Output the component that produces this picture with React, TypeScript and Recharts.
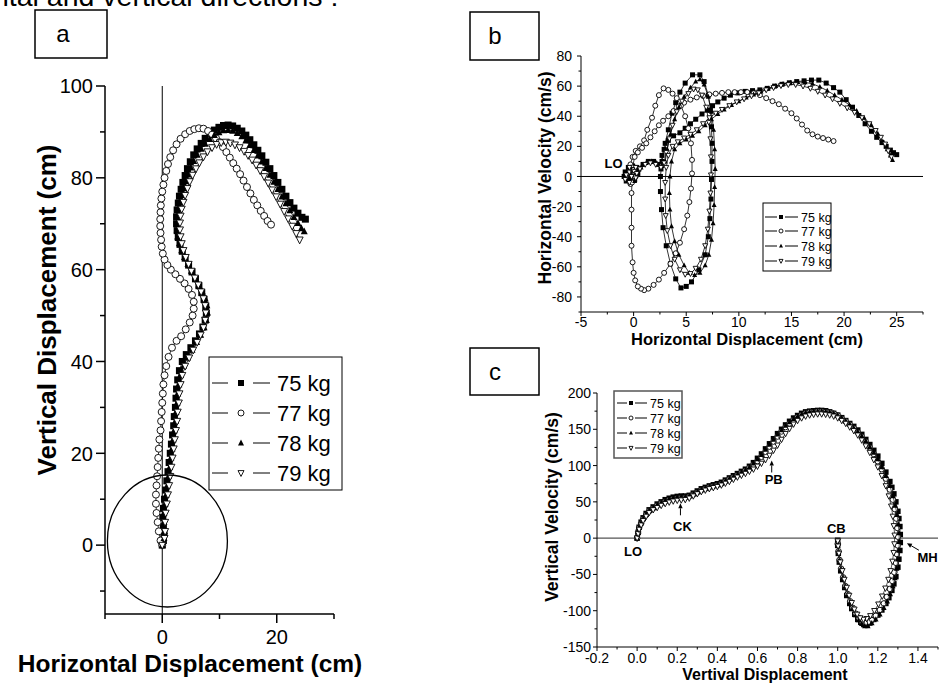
import React from 'react';
import { ScatterChart, Scatter, XAxis, YAxis, ReferenceLine, ReferenceDot } from 'recharts';

const FONT = '"Liberation Sans", Arial, Helvetica, sans-serif';

const seriesNames = ['75 kg', '77 kg', '78 kg', '79 kg'];
const markerKinds = ['square', 'circle', 'tri', 'invtri'];

// panel a: horizontal (x) vs vertical (y) bar displacement, cm
const a75 = [0,0, 0.2,1, 0.3,2.5, 0.2,4, 0.1,6, 0.2,8, 0.4,10, 0.6,12, 0.8,14, 1,16, 1.2,18, 1.4,20, 1.6,22, 1.8,24, 2,26, 2.1,28, 2.3,30, 2.4,32, 2.5,34, 2.7,36, 3,38, 3.5,40, 4.2,41.5, 5,43, 5.8,44.5, 6.5,46, 7.1,47.5, 7.5,49, 7.7,50.5, 7.6,52, 7.3,53.5, 6.9,55, 6.4,56.5, 5.8,58, 5.2,59.5, 4.6,61, 4,62.5, 3.5,64, 3.1,65.5, 2.8,67, 2.6,68.5, 2.5,70, 2.5,71.5, 2.6,73, 2.8,74.5, 3,76, 3.3,77.5, 3.6,79, 4,80.5, 4.4,82, 4.9,83.5, 5.5,85, 6.1,86.3, 6.8,87.5, 7.5,88.6, 8.3,89.6, 9.1,90.4, 9.9,91, 10.7,91.4, 11.5,91.5, 12.3,91.3, 13.1,90.8, 13.9,90.2, 14.6,89.3, 15.3,88.3, 16,87.2, 16.7,86, 17.4,84.8, 18.1,83.4, 18.8,82, 19.5,80.5, 20.2,79, 20.9,77.5, 21.6,76, 22.3,74.6, 23,73.4, 23.7,72.3, 24.4,71.4, 25,71];
const a77 = [0,0, -0.3,1, -0.6,3, -0.8,5, -1,7, -1.1,9, -1.1,11, -1,13, -0.9,15, -0.8,17, -0.7,19, -0.6,21, -0.5,23, -0.3,25, -0.2,27, -0.1,29, 0,31, 0.1,33, 0.2,35, 0.4,37, 0.7,39, 1.1,41, 1.7,43, 2.5,44.5, 3.3,45.5, 4.1,47, 4.8,48.5, 5.3,50, 5.5,51.5, 5.5,53, 5.2,54.5, 4.6,55.8, 3.9,57, 3.1,58, 2.3,59, 1.5,60, 0.9,61, 0.4,62.2, 0.1,63.5, -0.1,65, -0.2,66.5, -0.3,68, -0.35,69.5, -0.35,71, -0.3,72.5, -0.25,74, -0.15,75.5, 0,77, 0.2,78.5, 0.4,80, 0.7,81.5, 1,83, 1.4,84.5, 1.9,86, 2.5,87.3, 3.2,88.5, 4,89.5, 4.8,90.2, 5.6,90.6, 6.4,90.8, 7.2,90.7, 8,90.2, 8.7,89.4, 9.4,88.6, 10,87.8, 10.6,86.7, 11.2,85.6, 11.8,84.4, 12.4,83.2, 13,82, 13.6,80.8, 14.2,79.4, 14.8,78, 15.4,76.6, 16,75.2, 16.6,74, 17.2,72.8, 17.8,71.7, 18.4,70.6, 19,69.8];
const a78 = [0,0, 0.3,1.5, 0.4,3, 0.3,5, 0.3,7, 0.5,9, 0.7,11, 0.9,13, 1.1,15, 1.3,17, 1.5,19, 1.7,21, 1.9,23, 2.1,25, 2.3,27, 2.4,29, 2.6,31, 2.7,33, 2.9,35, 3.2,37, 3.7,39, 4.4,40.8, 5.2,42.5, 6,44.2, 6.7,45.8, 7.3,47.4, 7.7,49, 7.9,50.6, 7.8,52.2, 7.5,53.7, 7,55.2, 6.4,56.7, 5.8,58.2, 5.1,59.7, 4.5,61.2, 3.9,62.7, 3.4,64.2, 3,65.7, 2.7,67.2, 2.6,68.7, 2.6,70.2, 2.7,71.7, 2.9,73.2, 3.1,74.7, 3.4,76.2, 3.7,77.7, 4.1,79.2, 4.5,80.7, 5,82.2, 5.5,83.6, 6.1,85, 6.8,86.3, 7.5,87.4, 8.3,88.4, 9.1,89.3, 9.9,89.9, 10.7,90.3, 11.5,90.4, 12.3,90.2, 13.1,89.7, 13.9,89, 14.6,88.1, 15.3,87.1, 16,86, 16.7,84.8, 17.4,83.5, 18.1,82.1, 18.8,80.6, 19.5,79.1, 20.2,77.5, 20.9,75.9, 21.6,74.4, 22.3,72.9, 23,71.4, 23.7,70.1, 24.3,69, 24.8,68.3];
const a79 = [0,0, 0.4,1.5, 0.5,3, 0.5,5, 0.6,7, 0.8,9, 1,11, 1.2,13, 1.4,15, 1.6,17, 1.8,19, 2,21, 2.2,23, 2.4,25, 2.6,27, 2.7,29, 2.9,31, 3,33, 3.2,35, 3.5,37, 4,39, 4.7,40.8, 5.4,42.5, 6.1,44.2, 6.7,45.8, 7.2,47.4, 7.5,49, 7.6,50.6, 7.5,52.2, 7.2,53.7, 6.8,55.2, 6.3,56.7, 5.7,58.2, 5.1,59.7, 4.6,61.2, 4.1,62.7, 3.7,64.2, 3.4,65.7, 3.2,67.2, 3.1,68.7, 3.1,70.2, 3.2,71.7, 3.4,73.2, 3.7,74.7, 4,76.2, 4.4,77.7, 4.8,79.2, 5.3,80.6, 5.9,82, 6.5,83.3, 7.2,84.6, 7.9,85.7, 8.7,86.6, 9.5,87.3, 10.3,87.7, 11.1,87.8, 11.9,87.6, 12.7,87.2, 13.5,86.6, 14.3,85.8, 15,84.9, 15.7,83.9, 16.4,82.8, 17.1,81.6, 17.8,80.3, 18.5,78.9, 19.2,77.4, 19.9,75.9, 20.6,74.3, 21.3,72.7, 22,71.1, 22.7,69.5, 23.4,67.9, 24,66.5];

// panel b: horizontal displacement (cm) vs horizontal velocity (cm/s)
const b75 = [0,0, -0.3,-4, -0.7,-3, -0.9,0, -0.8,3, -0.5,6, -0.1,7, 0.3,6, 0.4,2, 0.1,-2, -0.4,1, 0,4, 0.5,5, 0.9,8, 1.4,10, 1.9,10, 2.3,8, 2.6,5, 2.7,14, 3,22, 3.3,31, 3.65,42, 4,49, 4.4,56, 4.9,62, 5.6,67.5, 6.3,67.5, 6.7,63, 7.1,54, 7.3,44, 7.4,33, 7.45,22, 7.45,10, 7.4,-2, 7.35,-15, 7.25,-28, 7.1,-40, 6.8,-52, 6.2,-62, 5.5,-70, 5,-73, 4.5,-74, 4,-68, 3.5,-58, 3.1,-46, 2.8,-34, 2.65,-22, 2.55,-10, 2.55,0, 2.7,10, 2.9,18, 3.3,24, 3.8,27, 4.4,29, 4.9,32, 5.4,35, 5.9,38, 6.5,41.5, 7,44, 7.5,47, 8,49.5, 8.6,52, 9.2,54, 9.9,55.5, 10.6,56.5, 11.3,57, 12,57.5, 12.7,58.5, 13.4,60, 14.1,61.2, 14.8,62.2, 15.5,63, 16.2,63.5, 16.9,64, 17.6,64, 18.3,62, 19,59, 19.6,56, 20.2,51, 20.8,46, 21.4,40.5, 22,35, 22.6,30, 23.1,26, 23.6,22.5, 24,20, 24.4,17.5, 24.7,15.8, 25,14.5];
const b77 = [0,0, -0.4,-3, -0.7,-1, -0.6,2, -0.3,6, 0.1,4, 0.2,0, -0.2,-2, -0.3,-5, -0.5,3, -0.3,8, -0.1,13, 0.2,17, 0.6,20, 1,24, 1.3,31, 1.75,39, 2.06,47, 2.4,54, 2.85,58.5, 3.3,57.5, 3.7,55, 4.1,52, 4.5,47, 4.9,40, 5.2,32, 5.45,22, 5.55,11, 5.55,2, 5.45,-8, 5.3,-17, 5.1,-26, 4.8,-35, 4.4,-44, 4,-51, 3.5,-58, 2.9,-64, 2.4,-68.5, 1.9,-72, 1.4,-74.5, 1,-75.5, 0.7,-74.5, 0.4,-73, 0.15,-69, 0,-64, -0.1,-57, -0.2,-46, -0.2,-34, -0.2,-22, -0.2,-11, -0.15,-4, -0.1,6, 0.1,13, 0.4,16, 0.8,19, 1.2,22, 1.6,26, 2,30, 2.4,34, 2.8,37, 3.3,40, 3.8,43.5, 4.3,46.5, 4.8,49, 5.4,51, 6,52.5, 6.6,53.5, 7.2,54.5, 7.8,55, 8.4,55.5, 9,56, 9.6,56, 10.2,56, 10.8,56, 11.4,55.3, 12,54, 12.6,52, 13.2,50, 13.8,48, 14.4,45, 15,42, 15.5,38.5, 16,34.5, 16.5,30.5, 17,28, 17.5,26.5, 18,25.5, 18.5,24.5, 19,23.5];
const b78 = [0,0, -0.5,-2, -0.8,0, -0.7,3, -0.3,6, 0.2,6, 0.3,2, 0.1,-3, -0.3,-1, 0.7,6, 1.2,9, 1.7,10, 2.2,9, 2.7,7, 3,10, 3.2,18, 3.5,28, 3.9,38, 4.3,46, 4.8,53, 5.4,59, 5.9,63, 6.3,64.5, 6.7,61, 7.1,53, 7.4,43, 7.6,31, 7.7,18, 7.75,5, 7.7,-7, 7.65,-19, 7.55,-31, 7.4,-42, 7.15,-52, 6.8,-59, 6.3,-64, 5.8,-65.5, 5.3,-64, 4.8,-59, 4.3,-52, 3.9,-43, 3.6,-33, 3.45,-22, 3.4,-11, 3.45,0, 3.6,10, 3.9,18, 4.4,22, 5,24.5, 5.6,27, 6.2,30, 6.8,34, 7.4,38, 8,41.5, 8.6,44.5, 9.3,47.5, 10,50, 10.7,52.5, 11.4,54.5, 12.1,56.5, 12.8,58.5, 13.5,60, 14.2,61.5, 14.9,62.3, 15.6,62.8, 16.3,62.5, 17,61.5, 17.7,59.5, 18.4,57, 19.1,54, 19.8,51, 20.5,47.5, 21.2,43.5, 21.9,39, 22.6,34, 23.2,28.5, 23.7,23, 24.1,18, 24.4,14, 24.6,11];
const b79 = [0,0, -0.4,-4, -0.8,-2, -0.7,1, -0.4,6, 0.2,6, 0.3,2, 0.2,-1, -0.2,0, 0.6,5, 1.1,8, 1.6,9, 2.1,8, 2.6,6, 2.9,9, 3.1,16, 3.4,25, 3.7,34, 4.1,43, 4.6,50, 5.2,55, 5.7,58, 6.1,57.5, 6.5,54, 6.9,46, 7.15,36, 7.3,25, 7.35,13, 7.35,1, 7.3,-11, 7.2,-23, 7.05,-35, 6.8,-46, 6.4,-55, 5.9,-61, 5.4,-64.5, 4.9,-65, 4.4,-62, 3.9,-55, 3.5,-46, 3.2,-36, 3.05,-26, 3,-15, 3,-4, 3.1,6, 3.3,14, 3.7,20, 4.2,23, 4.8,25.5, 5.4,28, 6,31, 6.6,35, 7.2,39, 7.8,42, 8.4,44.5, 9.1,47, 9.8,49.5, 10.5,51.5, 11.2,53.5, 11.9,55.5, 12.6,57.5, 13.3,59, 14,60.3, 14.7,61, 15.4,61, 16.1,60, 16.8,58.5, 17.5,56.5, 18.2,54, 18.9,51.5, 19.6,48.5, 20.3,45.5, 21,42.5, 21.7,39, 22.4,35, 23,30.5, 23.5,26, 23.9,21.5, 24.2,17, 24.5,13];

// panel c: vertical displacement vs vertical velocity (cm/s)
const c75 = [0,0, 0.005,8, 0.01,15, 0.02,22, 0.03,28, 0.045,34, 0.06,39, 0.08,43, 0.1,47, 0.12,50, 0.14,53, 0.16,55, 0.18,56.5, 0.2,57.5, 0.22,58, 0.24,58, 0.26,59, 0.28,62, 0.3,65, 0.32,68, 0.34,70, 0.36,72, 0.38,73.5, 0.4,75, 0.42,77, 0.44,80, 0.46,83, 0.48,86, 0.5,89, 0.52,92, 0.54,95, 0.56,99, 0.58,104, 0.6,110, 0.62,116, 0.64,123, 0.66,130, 0.68,137, 0.7,144, 0.72,150, 0.74,156, 0.76,161, 0.78,165.5, 0.8,169, 0.82,172, 0.84,174, 0.86,175, 0.88,175.5, 0.9,176, 0.92,176, 0.94,175.5, 0.96,174, 0.98,172, 1,169.5, 1.02,166, 1.04,162, 1.06,158, 1.08,154, 1.1,149, 1.12,143, 1.14,136, 1.16,129, 1.18,121, 1.2,113, 1.22,103, 1.24,91, 1.26,78, 1.27,70, 1.28,61, 1.29,50, 1.3,37, 1.305,27, 1.31,16, 1.312,5, 1.312,-6, 1.31,-17, 1.305,-29, 1.3,-40, 1.29,-53, 1.28,-63, 1.27,-72, 1.255,-82, 1.24,-90, 1.22,-99, 1.2,-106, 1.18,-112, 1.16,-117, 1.145,-120, 1.13,-119, 1.115,-116, 1.1,-112, 1.085,-105, 1.07,-97, 1.06,-90, 1.045,-79, 1.035,-68, 1.025,-57, 1.015,-45, 1.008,-33, 1.003,-21, 1,-10, 1,-3];
const c77 = [0,0, 0.005,7, 0.01,14, 0.02,20, 0.03,26, 0.045,32, 0.06,37, 0.08,41, 0.1,45, 0.12,48, 0.14,50.5, 0.16,52.5, 0.18,54, 0.2,55, 0.22,55.5, 0.24,56, 0.26,57.5, 0.28,60, 0.3,63, 0.32,66, 0.34,68, 0.36,70, 0.38,71.5, 0.4,73, 0.42,75, 0.44,78, 0.46,81, 0.48,84, 0.5,87, 0.52,90, 0.54,93, 0.56,97, 0.58,101, 0.6,106, 0.62,112, 0.64,119, 0.66,126, 0.68,133, 0.7,140, 0.72,147, 0.74,153, 0.76,158, 0.78,163, 0.8,167, 0.82,170, 0.84,172, 0.86,173.5, 0.88,174, 0.9,174.5, 0.92,174.5, 0.94,174, 0.96,173, 0.98,171.5, 1,169, 1.02,165, 1.04,161, 1.06,156.5, 1.08,151.5, 1.1,146, 1.12,140, 1.14,133, 1.16,125, 1.18,116, 1.2,106, 1.22,95, 1.24,82, 1.26,67, 1.275,53, 1.285,40, 1.292,27, 1.297,14, 1.3,2, 1.299,-10, 1.295,-22, 1.29,-34, 1.282,-47, 1.272,-59, 1.26,-70, 1.245,-81, 1.23,-90, 1.21,-99, 1.19,-107, 1.17,-113, 1.15,-116, 1.135,-117, 1.12,-115, 1.105,-110, 1.09,-104, 1.075,-96, 1.062,-87, 1.05,-77, 1.038,-66, 1.027,-54, 1.017,-42, 1.009,-30, 1.004,-18, 1,-8];
const c78 = [0,0, 0.005,8, 0.01,15, 0.02,21, 0.03,27, 0.045,33, 0.06,38, 0.08,42, 0.1,46, 0.12,49, 0.14,52, 0.16,54, 0.18,55.5, 0.2,56.5, 0.22,57, 0.24,57, 0.26,58.5, 0.28,61, 0.3,64, 0.32,67, 0.34,69, 0.36,71, 0.38,72.5, 0.4,74, 0.42,76, 0.44,79, 0.46,82, 0.48,85, 0.5,88, 0.52,91, 0.54,94, 0.56,98, 0.58,103, 0.6,109, 0.62,115, 0.64,122, 0.66,129, 0.68,136, 0.7,143, 0.72,149, 0.74,155, 0.76,160, 0.78,164.5, 0.8,168, 0.82,171, 0.84,173, 0.86,174, 0.88,175, 0.9,175, 0.92,175, 0.94,174.5, 0.96,173.5, 0.98,172, 1,169.5, 1.02,166, 1.04,161.5, 1.06,157, 1.08,152, 1.1,147, 1.12,141, 1.14,134, 1.16,126, 1.18,118, 1.2,109, 1.22,98, 1.24,86, 1.26,72, 1.275,58, 1.287,45, 1.296,32, 1.302,19, 1.306,7, 1.307,-5, 1.305,-17, 1.3,-29, 1.294,-42, 1.285,-55, 1.275,-66, 1.262,-77, 1.247,-87, 1.23,-96, 1.21,-105, 1.19,-112, 1.17,-117, 1.15,-121, 1.135,-121, 1.12,-118, 1.105,-113, 1.09,-106, 1.075,-97, 1.062,-88, 1.05,-78, 1.038,-66, 1.027,-54, 1.017,-42, 1.009,-30, 1.004,-18, 1,-7];
const c79 = [0,0, 0.005,6, 0.01,12, 0.02,18, 0.03,24, 0.045,30, 0.06,35, 0.08,39, 0.1,42, 0.12,45, 0.14,47.5, 0.16,49.5, 0.18,51, 0.2,52, 0.22,52.5, 0.24,53, 0.26,55, 0.28,58, 0.3,61, 0.32,64, 0.34,66, 0.36,68, 0.38,69.5, 0.4,71, 0.42,73, 0.44,75.5, 0.46,78, 0.48,81, 0.5,84, 0.52,86.5, 0.54,89, 0.56,92, 0.58,95, 0.6,99, 0.62,103, 0.64,108, 0.66,114, 0.68,121, 0.7,128, 0.72,136, 0.74,144, 0.76,151, 0.78,157, 0.8,162, 0.82,165.5, 0.84,168, 0.86,169.5, 0.88,170.5, 0.9,171, 0.92,171, 0.94,170.5, 0.96,169.5, 0.98,168, 1,165.5, 1.02,162, 1.04,158, 1.06,153, 1.08,148, 1.1,142, 1.12,135, 1.14,127, 1.16,118, 1.18,108, 1.2,98, 1.22,86, 1.24,72, 1.255,58, 1.267,44, 1.275,30, 1.28,17, 1.284,4, 1.283,-8, 1.279,-20, 1.273,-32, 1.264,-45, 1.253,-57, 1.238,-69, 1.222,-80, 1.203,-91, 1.183,-100, 1.163,-107, 1.145,-111, 1.128,-112, 1.112,-110, 1.097,-105, 1.083,-98, 1.07,-89, 1.057,-79, 1.045,-68, 1.033,-57, 1.023,-45, 1.013,-33, 1.006,-21, 1.002,-11, 1,-4];

// axis ticks (all ticks) and the labelled subset
const aTicksX = [-10, 0, 10, 20, 30];
const aLabelX = [0, 20];
const aTicksY = [-10, 0, 10, 20, 30, 40, 50, 60, 70, 80, 90, 100];
const aLabelY = [0, 20, 40, 60, 80, 100];
const bTicksX = [-5, -2.5, 0, 2.5, 5, 7.5, 10, 12.5, 15, 17.5, 20, 22.5, 25, 27.5];
const bLabelX = [-5, 0, 5, 10, 15, 20, 25];
const bTicksY = [-90, -80, -70, -60, -50, -40, -30, -20, -10, 0, 10, 20, 30, 40, 50, 60, 70, 80];
const bLabelY = [-80, -60, -40, -20, 0, 20, 40, 60, 80];
const cTicksX = [-0.2, -0.1, 0, 0.1, 0.2, 0.3, 0.4, 0.5, 0.6, 0.7, 0.8, 0.9, 1.0, 1.1, 1.2, 1.3, 1.4, 1.5];
const cLabelX = [-0.2, 0, 0.2, 0.4, 0.6, 0.8, 1.0, 1.2, 1.4];
const cTicksY = [-150, -125, -100, -75, -50, -25, 0, 25, 50, 75, 100, 125, 150, 175, 200];
const cLabelY = [-150, -100, -50, 0, 50, 100, 150, 200];

const toPoints = (flat: number[]) => {
  const out: { x: number; y: number }[] = [];
  for (let i = 0; i < flat.length; i += 2) out.push({ x: flat[i], y: flat[i + 1] });
  return out;
};

const has = (list: number[], v: number) => list.some((l) => Math.abs(l - v) < 1e-6);

function Marker({ kind, cx, cy, s }: { kind: string; cx: number; cy: number; s: number }) {
  const h = s / 2;
  if (kind === 'square') return <rect x={cx - h} y={cy - h} width={s} height={s} fill="#000" />;
  if (kind === 'circle') return <circle cx={cx} cy={cy} r={h} fill="#fff" stroke="#000" strokeWidth={0.9} />;
  if (kind === 'tri')
    return <polygon points={`${cx},${cy - h * 1.15} ${cx + h},${cy + h * 0.8} ${cx - h},${cy + h * 0.8}`} fill="#000" />;
  return (
    <polygon
      points={`${cx},${cy + h * 1.15} ${cx + h},${cy - h * 0.8} ${cx - h},${cy - h * 0.8}`}
      fill="#fff"
      stroke="#000"
      strokeWidth={0.9}
    />
  );
}

type TickStyle = { labels: number[]; fmt: (v: number) => string; font: number; major: number; minor: number; off: number; sw: number };

const xTick = (st: TickStyle) => (props: any) => {
  const { x, y, payload } = props;
  const v = payload.value;
  const big = has(st.labels, v);
  return (
    <g>
      <line x1={x} x2={x} y1={y} y2={y + (big ? st.major : st.minor)} stroke="#000" strokeWidth={st.sw} />
      {big && (
        <text x={x} y={y + st.off} textAnchor="middle" fontSize={st.font} fill="#000" fontFamily={FONT}>
          {st.fmt(v)}
        </text>
      )}
    </g>
  );
};

const yTick = (st: TickStyle) => (props: any) => {
  const { x, y, payload } = props;
  const v = payload.value;
  const big = has(st.labels, v);
  return (
    <g>
      <line x1={x} x2={x - (big ? st.major : st.minor)} y1={y} y2={y} stroke="#000" strokeWidth={st.sw} />
      {big && (
        <text x={x - st.off} y={y + st.font * 0.36} textAnchor="end" fontSize={st.font} fill="#000" fontFamily={FONT}>
          {st.fmt(v)}
        </text>
      )}
    </g>
  );
};

const plain = (v: number) => String(v);
const oneDec = (v: number) => v.toFixed(1);

const Note = (text: string, size = 13) => (p: any) => (
  <text x={p.cx} y={p.cy + size * 0.36} textAnchor="middle" fontSize={size} fontWeight="bold" fontFamily={FONT} fill="#000">
    {text}
  </text>
);

// arrow whose tip sits on the reference point, tail offset by (tx, ty)
const Arrow = (tx: number, ty: number) => (p: any) => {
  const len = Math.hypot(tx, ty);
  const ux = tx / len;
  const uy = ty / len;
  const hx = p.cx + ux * 5;
  const hy = p.cy + uy * 5;
  return (
    <g>
      <line x1={p.cx + tx} y1={p.cy + ty} x2={hx} y2={hy} stroke="#000" strokeWidth={1} />
      <polygon
        points={`${p.cx},${p.cy} ${hx - uy * 2.2},${hy + ux * 2.2} ${hx + uy * 2.2},${hy - ux * 2.2}`}
        fill="#000"
      />
    </g>
  );
};

function renderSeries(sets: number[][], size: number, lineColor: string) {
  return sets.map((flat, i) => (
    <Scatter
      key={seriesNames[i]}
      name={seriesNames[i]}
      data={toPoints(flat)}
      isAnimationActive={false}
      line={{ stroke: lineColor, strokeWidth: 0.8 }}
      lineType="joint"
      shape={(p: any) => <Marker kind={markerKinds[i]} cx={p.cx} cy={p.cy} s={size} />}
    />
  ));
}

type LegendSpec = {
  x: number; y: number; w: number; h: number; rows: number[]; font: number;
  l1: [number, number]; mx: number; l2: [number, number]; tx: number; ms: number; border: string; bw: number;
};

function LegendBox({ spec }: { spec: LegendSpec }) {
  return (
    <g>
      <rect x={spec.x} y={spec.y} width={spec.w} height={spec.h} fill="#fff" stroke={spec.border} strokeWidth={spec.bw} />
      {seriesNames.map((name, i) => {
        const ry = spec.rows[i];
        return (
          <g key={name}>
            <line x1={spec.l1[0]} x2={spec.l1[1]} y1={ry} y2={ry} stroke="#000" strokeWidth={1} />
            <Marker kind={markerKinds[i]} cx={spec.mx} cy={ry} s={spec.ms} />
            <line x1={spec.l2[0]} x2={spec.l2[1]} y1={ry} y2={ry} stroke="#000" strokeWidth={1} />
            <text x={spec.tx} y={ry + spec.font * 0.36} fontSize={spec.font} fontFamily={FONT} fill="#000">
              {name}
            </text>
          </g>
        );
      })}
    </g>
  );
}

const legA: LegendSpec = { x: 209, y: 357, w: 133, h: 133, rows: [383, 413, 443, 473], font: 22, l1: [212, 228], mx: 241, l2: [253, 270], tx: 277, ms: 6, border: '#000', bw: 1 };
const legB: LegendSpec = { x: 763, y: 203, w: 68, h: 68, rows: [217, 231, 246, 261], font: 12.5, l1: [765, 777], mx: 781, l2: [785, 798], tx: 801, ms: 4, border: '#000', bw: 1 };
const legC: LegendSpec = { x: 614, y: 391, w: 68, h: 67, rows: [403, 418, 433, 448], font: 12.5, l1: [617, 627], mx: 631, l2: [635, 647], tx: 650, ms: 4, border: '#555', bw: 1.5 };

const layer: React.CSSProperties = { position: 'absolute', left: 0, top: 0 };

export default function App() {
  const tA = { font: 20, major: 9, minor: 5, sw: 1.5 };
  const tB = { font: 14, major: 4, minor: 2.5, sw: 1 };
  const tC = { font: 14, major: 4, minor: 2.5, sw: 1 };

  return (
    <div style={{ position: 'absolute', left: 0, top: 0, width: 944, height: 684, overflow: 'hidden', background: '#fff', fontFamily: FONT }}>
      {/* panel a */}
      <div style={layer}>
        <ScatterChart width={944} height={684} margin={{ top: 86, right: 610, bottom: 40, left: 55 }}>
          <XAxis type="number" dataKey="x" domain={[-10, 30]} ticks={aTicksX} interval={0} allowDataOverflow
            height={30} tickSize={0} tickMargin={0} tickLine={false} axisLine={{ stroke: '#000', strokeWidth: 1.5 }}
            tick={xTick({ ...tA, labels: aLabelX, fmt: plain, off: 30 })} />
          <YAxis type="number" dataKey="y" domain={[-15, 100]} ticks={aTicksY} interval={0} allowDataOverflow
            width={50} tickSize={0} tickMargin={0} tickLine={false} axisLine={{ stroke: '#000', strokeWidth: 1.5 }}
            tick={yTick({ ...tA, labels: aLabelY, fmt: plain, off: 12 })} />
          <ReferenceLine x={0} stroke="#000" strokeWidth={1} />
          {renderSeries([a75, a77, a78, a79], 7, '#000')}
          <ReferenceDot x={0.9} y={0.9} r={0}
            shape={(p: any) => <ellipse cx={p.cx} cy={p.cy} rx={60} ry={66} fill="none" stroke="#000" strokeWidth={1.3} />} />
        </ScatterChart>
      </div>

      {/* panel b */}
      <div style={layer}>
        <ScatterChart width={944} height={684} margin={{ top: 56, right: 21, bottom: 342, left: 541 }}>
          <XAxis type="number" dataKey="x" domain={[-5, 27.5]} ticks={bTicksX} interval={0} allowDataOverflow
            height={30} tickSize={0} tickMargin={0} tickLine={false} axisLine={{ stroke: '#000', strokeWidth: 1 }}
            tick={xTick({ ...tB, labels: bLabelX, fmt: plain, off: 15 })} />
          <YAxis type="number" dataKey="y" domain={[-90, 80]} ticks={bTicksY} interval={0} allowDataOverflow
            width={40} tickSize={0} tickMargin={0} tickLine={false} axisLine={{ stroke: '#000', strokeWidth: 1 }}
            tick={yTick({ ...tB, labels: bLabelY, fmt: plain, off: 9 })} />
          <ReferenceLine y={0} stroke="#000" strokeWidth={1} />
          {renderSeries([b75, b77, b78, b79], 5, '#000')}
          <ReferenceDot x={-1.9} y={8.5} r={0} shape={Note('LO')} />
        </ScatterChart>
      </div>

      {/* panel c */}
      <div style={layer}>
        <ScatterChart width={944} height={684} margin={{ top: 393, right: 6, bottom: 7, left: 557 }}>
          <XAxis type="number" dataKey="x" domain={[-0.2, 1.5]} ticks={cTicksX} interval={0} allowDataOverflow
            height={30} tickSize={0} tickMargin={0} tickLine={false} axisLine={{ stroke: '#000', strokeWidth: 1 }}
            tick={xTick({ ...tC, labels: cLabelX, fmt: oneDec, off: 16 })} />
          <YAxis type="number" dataKey="y" domain={[-150, 200]} ticks={cTicksY} interval={0} allowDataOverflow
            width={40} tickSize={0} tickMargin={0} tickLine={false} axisLine={{ stroke: '#000', strokeWidth: 1 }}
            tick={yTick({ ...tC, labels: cLabelY, fmt: plain, off: 6 })} />
          <ReferenceLine y={0} stroke="#555" strokeWidth={1.2} />
          {renderSeries([c75, c77, c78, c79], 5.5, '#333')}
          <ReferenceDot x={-0.02} y={-18} r={0} shape={Note('LO')} />
          <ReferenceDot x={0.226} y={16.5} r={0} shape={Note('CK')} />
          <ReferenceDot x={0.216} y={48} r={0} shape={Arrow(0, 12)} />
          <ReferenceDot x={0.681} y={81} r={0} shape={Note('PB')} />
          <ReferenceDot x={0.671} y={107} r={0} shape={Arrow(0, 12)} />
          <ReferenceDot x={0.993} y={14} r={0} shape={Note('CB')} />
          <ReferenceDot x={1.448} y={-26} r={0} shape={Note('MH')} />
          <ReferenceDot x={1.345} y={-7} r={0} shape={Arrow(12, 7)} />
        </ScatterChart>
      </div>

      {/* titles, panel tags, legends */}
      <svg width={944} height={684} style={{ ...layer, pointerEvents: 'none' }}>
        <text x={-7} y={6} fontSize={28.5} fontFamily={FONT} fill="#000">ntal and vertical directions :</text>

        <rect x={35} y={10} width={72} height={48} fill="none" stroke="#000" strokeWidth={1.5} />
        <text x={63} y={42} textAnchor="middle" fontSize={24} fontFamily={FONT}>a</text>
        <rect x={470} y={12} width={69} height={48} fill="none" stroke="#000" strokeWidth={1.5} />
        <text x={495} y={44} textAnchor="middle" fontSize={24} fontFamily={FONT}>b</text>
        <rect x={470} y={348} width={69} height={47} fill="none" stroke="#000" strokeWidth={1.5} />
        <text x={495} y={380} textAnchor="middle" fontSize={24} fontFamily={FONT}>c</text>

        <text x={190} y={672} textAnchor="middle" fontSize={24.5} fontWeight="bold" fontFamily={FONT}>Horizontal Displacement (cm)</text>
        <text x={56} y={310} transform="rotate(-90 56 310)" textAnchor="middle" fontSize={26} fontWeight="bold" fontFamily={FONT}>Vertical Displacement (cm)</text>

        <text x={747} y={345} textAnchor="middle" fontSize={16.5} fontWeight="bold" fontFamily={FONT}>Horizontal Displacement (cm)</text>
        <text x={551} y={178} transform="rotate(-90 551 178)" textAnchor="middle" fontSize={17.5} fontWeight="bold" fontFamily={FONT}>Horizontal Velocity (cm/s)</text>

        <text x={765} y={680} textAnchor="middle" fontSize={16} fontWeight="bold" fontFamily={FONT}>Vertival Displacement</text>
        <text x={558} y={507} transform="rotate(-90 558 507)" textAnchor="middle" fontSize={17.5} fontWeight="bold" fontFamily={FONT}>Vertical Velocity (cm/s)</text>

        <LegendBox spec={legA} />
        <LegendBox spec={legB} />
        <LegendBox spec={legC} />
      </svg>
    </div>
  );
}
